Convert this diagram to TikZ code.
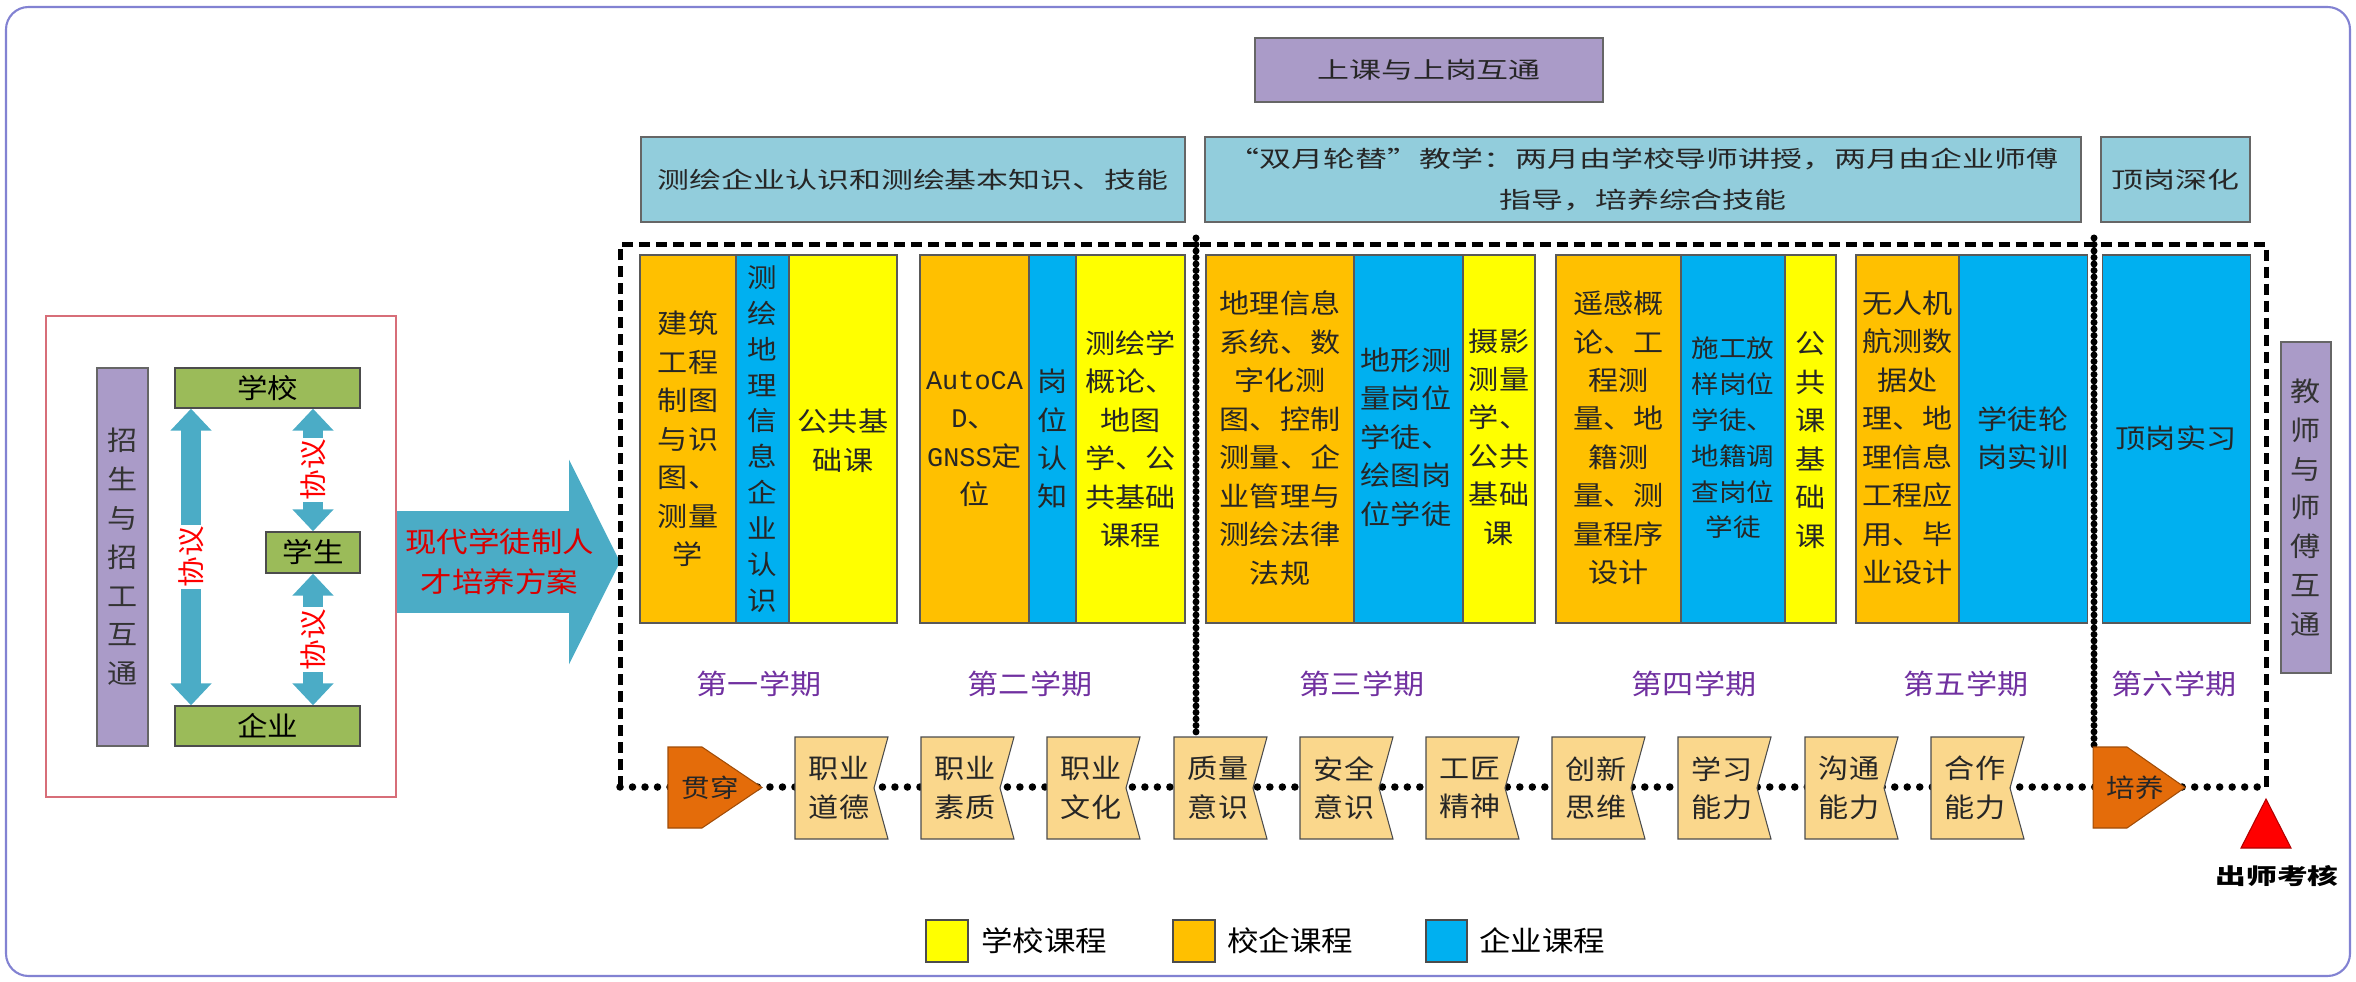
\documentclass[tikz,border=0pt]{standalone}
\usepackage{fontspec}
\setmainfont[FakeStretch=1.12]{Noto Sans CJK SC}
\newfontfamily\flatfont[FakeStretch=1.4]{Noto Sans CJK SC}
\newfontfamily\latinmono{Liberation Mono}
\usetikzlibrary{arrows.meta}
\definecolor{orangecol}{RGB}{255,192,0}
\definecolor{bluecol}{RGB}{0,176,240}
\definecolor{yellowcol}{RGB}{255,255,0}
\definecolor{chevfill}{RGB}{250,215,140}
\definecolor{pentfill}{RGB}{228,108,10}
\definecolor{topblue}{RGB}{146,205,220}
\definecolor{lilac}{RGB}{170,155,200}
\definecolor{leafgreen}{RGB}{155,187,89}
\definecolor{aqua}{RGB}{75,172,198}
\definecolor{termpurple}{RGB}{112,48,160}
\definecolor{framelilac}{RGB}{130,130,210}
\definecolor{boxred}{RGB}{215,110,120}

\begin{document}
\begin{tikzpicture}[x=0.02cm,y=-0.02cm,
  col/.style={draw=black!65,line width=0.6pt},
  coltext/.style={align=center,inner sep=0pt,text=black!85,font=\fontsize{15.3}{21.9}\selectfont},
  chev/.style={draw=black!70,line width=0.6pt,fill=chevfill},
  pent/.style={draw=pentfill!70!black,line width=0.6pt,fill=pentfill},
  toptext/.style={align=center,inner sep=0pt,text=black!85,font=\flatfont\fontsize{13}{23.8}\selectfont},
  topbox/.style={draw=black!60,line width=0.8pt,fill=topblue},
  term/.style={text=termpurple,font=\fontsize{15.8}{20}\selectfont},
  dashline/.style={line width=0.1cm,dash pattern=on 0.22cm off 0.12cm},
  dotline/.style={line width=0.15cm,dash pattern=on 0pt off 0.25cm,line cap=round},
  beadline/.style={line width=0.14cm,dash pattern=on 0pt off 0.13cm,line cap=round},
  greenbox/.style={draw=black!70,line width=0.8pt,fill=leafgreen,inner sep=0pt,font=\fontsize{15.5}{20}\selectfont},
  lilacbar/.style={draw=black!60,line width=0.8pt,fill=lilac,inner sep=0pt,align=center,text=black!80,font=\fontsize{15.3}{22.1}\selectfont},
  pact/.style={line width=0.4cm,draw=aqua,{Triangle[width=0.8cm,length=0.44cm]}-{Triangle[width=0.8cm,length=0.44cm]}},
  pactlabel/.style={fill=white,inner xsep=1pt,inner ysep=0pt,text=red,rotate=90,font=\fontsize{15.5}{18}\selectfont},
  legbox/.style={draw=black!70,line width=0.6pt},
  legtext/.style={anchor=west,inner sep=0pt,font=\fontsize{16}{20}\selectfont}]
\useasboundingbox (0,0) rectangle (2356,982);
\draw[framelilac,line width=1.2pt,rounded corners=0.45cm] (6,7) rectangle (2350,976);

\node[draw=boxred,line width=1.2pt,minimum width=7cm,minimum height=9.62cm] (plan) at (221,556.5) {};
\node[lilacbar,minimum width=1.02cm,minimum height=7.56cm] (zhaosheng) at (122.5,557) {招\\生\\与\\招\\工\\互\\通};
\node[greenbox,minimum width=3.7cm,minimum height=0.8cm] (school) at (267.5,388) {学校};
\node[greenbox,minimum width=1.88cm,minimum height=0.82cm] (student) at (313,552.5) {学生};
\node[greenbox,minimum width=3.7cm,minimum height=0.8cm] (firm) at (267.5,726) {企业};
\draw[pact] ([xshift=-1.53cm]school.south) -- ([xshift=-1.53cm]firm.north) node[midway,pactlabel] (pact1) {协议};
\draw[pact] (school.south -| student.north) -- (student.north) node[midway,pactlabel] (pact2) {协议};
\draw[pact] (student.south) -- (firm.north -| student.south) node[midway,pactlabel] (pact3) {协议};

\coordinate (tip) at (620,562);
\draw[line width=2.04cm,draw=aqua,-{Triangle[width=4.06cm,length=1.02cm]}] (plan.east |- tip) -- (tip)
  node[pos=0.46,align=center,text=red!85!black,font=\fontsize{16}{22.7}\selectfont] (plantext) {现代学徒制人\\才培养方案};

\node[draw=black!60,line width=0.8pt,fill=lilac,minimum width=6.96cm,minimum height=1.28cm,toptext] (mutual) at (1429,70) {上课与上岗互通};
\node[topbox,toptext,minimum width=10.88cm,minimum height=1.7cm] (stage1) at (913,179.5) {测绘企业认识和测绘基本知识、技能};
\node[topbox,toptext,minimum width=17.52cm,minimum height=1.7cm] (stage2) at (1643,179.5) {“双月轮替”教学：两月由学校导师讲授，两月由企业师傅\\指导，培养综合技能};
\node[topbox,toptext,minimum width=2.98cm,minimum height=1.7cm] (stage3) at (2175.5,179.5) {顶岗深化};

\coordinate (fNW) at (620,245);
\coordinate (fNE) at (2266,245);
\coordinate (fSW) at (620,787);
\coordinate (fSE) at (2266,787);
\draw[dashline] (fSW) -- (fNW) -- (fNE) -- (fSE);
\draw[dotline] (fSW) -- (fSE);
\draw[beadline] (1196,238) -- (1196,737);
\draw[beadline] (2094,238) -- (2094,747);

\filldraw[col,fill=orangecol] (640,255) rectangle (736,623);
\filldraw[col,fill=bluecol] (736,255) rectangle (789,623);
\filldraw[col,fill=yellowcol] (789,255) rectangle (897,623);
\node[coltext] (c1o) at (688,439) {建筑\\工程\\制图\\与识\\图、\\测量\\学};
\node[coltext,font=\fontsize{15}{20.4}\selectfont] (c1b) at (762.5,439) {测\\绘\\地\\理\\信\\息\\企\\业\\认\\识};
\node[coltext] (c1y) at (843,441) {公共基\\础课};

\filldraw[col,fill=orangecol] (920,255) rectangle (1029,623);
\filldraw[col,fill=bluecol] (1029,255) rectangle (1076,623);
\filldraw[col,fill=yellowcol] (1076,255) rectangle (1185,623);
\node[coltext] (c2o) at (974.5,439) {{\latinmono AutoCA}\\{\latinmono D}、\\{\latinmono GNSS}定\\位};
\node[coltext] (c2b) at (1052.5,439) {岗\\位\\认\\知};
\node[coltext] (c2y) at (1130.5,439) {测绘学\\概论、\\地图\\学、公\\共基础\\课程};

\filldraw[col,fill=orangecol] (1206,255) rectangle (1354,623);
\filldraw[col,fill=bluecol] (1354,255) rectangle (1463,623);
\filldraw[col,fill=yellowcol] (1463,255) rectangle (1535,623);
\node[coltext] (c3o) at (1280,438) {地理信息\\系统、数\\字化测\\图、控制\\测量、企\\业管理与\\测绘法律\\法规};
\node[coltext] (c3b) at (1406,437) {地形测\\量岗位\\学徒、\\绘图岗\\位学徒};
\node[coltext] (c3y) at (1499,437) {摄影\\测量\\学、\\公共\\基础\\课};

\filldraw[col,fill=orangecol] (1556,255) rectangle (1681,623);
\filldraw[col,fill=bluecol] (1681,255) rectangle (1785,623);
\filldraw[col,fill=yellowcol] (1785,255) rectangle (1836,623);
\node[coltext] (c4o) at (1618.5,438) {遥感概\\论、工\\程测\\量、地\\籍测\\量、测\\量程序\\设计};
\node[coltext,font=\fontsize{14}{20.4}\selectfont] (c4b) at (1733,438) {施工放\\样岗位\\学徒、\\地籍调\\查岗位\\学徒};
\node[coltext] (c4y) at (1810.5,440) {公\\共\\课\\基\\础\\课};

\filldraw[col,fill=orangecol] (1856,255) rectangle (1959,623);
\filldraw[col,fill=bluecol] (1959,255) rectangle (2087,623);
\node[coltext] (c5o) at (1907.5,438) {无人机\\航测数\\据处\\理、地\\理信息\\工程应\\用、毕\\业设计};
\node[coltext] (c5b) at (2023,438) {学徒轮\\岗实训};

\filldraw[col,fill=bluecol] (2102,255) rectangle (2250,623);
\node[coltext] (c6b) at (2176,438) {顶岗实习};

\node[term] (term1) at (759,684) {第一学期};
\node[term] (term2) at (1030,684) {第二学期};
\node[term] (term3) at (1362,684) {第三学期};
\node[term] (term4) at (1694,684) {第四学期};
\node[term] (term5) at (1966,684) {第五学期};
\node[term] (term6) at (2174,684) {第六学期};

\filldraw[pent] (668,747) -- (702,747) -- (762,787.5) -- (702,828) -- (668,828) -- cycle;
\node[coltext,font=\fontsize{14.5}{20}\selectfont] (gc) at (710,787.5) {贯穿};
\filldraw[chev] (795,737) -- (888,737) -- (874,788) -- (888,839) -- (795,839) -- cycle;
\node[coltext] (q1) at (839,788) {职业\\道德};
\filldraw[chev] (921,737) -- (1014,737) -- (1000,788) -- (1014,839) -- (921,839) -- cycle;
\node[coltext] (q2) at (965,788) {职业\\素质};
\filldraw[chev] (1047,737) -- (1140,737) -- (1126,788) -- (1140,839) -- (1047,839) -- cycle;
\node[coltext] (q3) at (1091,788) {职业\\文化};
\filldraw[chev] (1174,737) -- (1267,737) -- (1253,788) -- (1267,839) -- (1174,839) -- cycle;
\node[coltext] (q4) at (1218,788) {质量\\意识};
\filldraw[chev] (1300,737) -- (1393,737) -- (1379,788) -- (1393,839) -- (1300,839) -- cycle;
\node[coltext] (q5) at (1344,788) {安全\\意识};
\filldraw[chev] (1426,737) -- (1519,737) -- (1505,788) -- (1519,839) -- (1426,839) -- cycle;
\node[coltext] (q6) at (1470,788) {工匠\\精神};
\filldraw[chev] (1552,737) -- (1645,737) -- (1631,788) -- (1645,839) -- (1552,839) -- cycle;
\node[coltext] (q7) at (1596,788) {创新\\思维};
\filldraw[chev] (1678,737) -- (1771,737) -- (1757,788) -- (1771,839) -- (1678,839) -- cycle;
\node[coltext] (q8) at (1722,788) {学习\\能力};
\filldraw[chev] (1805,737) -- (1898,737) -- (1884,788) -- (1898,839) -- (1805,839) -- cycle;
\node[coltext] (q9) at (1849,788) {沟通\\能力};
\filldraw[chev] (1931,737) -- (2024,737) -- (2010,788) -- (2024,839) -- (1931,839) -- cycle;
\node[coltext] (q10) at (1975,788) {合作\\能力};
\filldraw[pent] (2093,747) -- (2127,747) -- (2185,787.5) -- (2127,828) -- (2093,828) -- cycle;
\node[coltext,font=\fontsize{14.5}{20}\selectfont] (py) at (2135,787.5) {培养};

\filldraw[fill=red,draw=red!70!black,line width=0.6pt] (2266,799) -- (2291,848) -- (2241,848) -- cycle;
\node[font=\flatfont\bfseries\fontsize{12.5}{16}\selectfont] (exam) at (2277,876) {出师考核};

\node[lilacbar,minimum width=1cm,minimum height=6.62cm] (teacher) at (2306,507.5) {教\\师\\与\\师\\傅\\互\\通};

\filldraw[legbox,fill=yellowcol] (926,920) rectangle (968,962);
\node[legtext] (lg1) at (981,941) {学校课程};
\filldraw[legbox,fill=orangecol] (1173,920) rectangle (1215,962);
\node[legtext] (lg2) at (1227,941) {校企课程};
\filldraw[legbox,fill=bluecol] (1426,920) rectangle (1467,962);
\node[legtext] (lg3) at (1479,941) {企业课程};
\end{tikzpicture}
\end{document}
